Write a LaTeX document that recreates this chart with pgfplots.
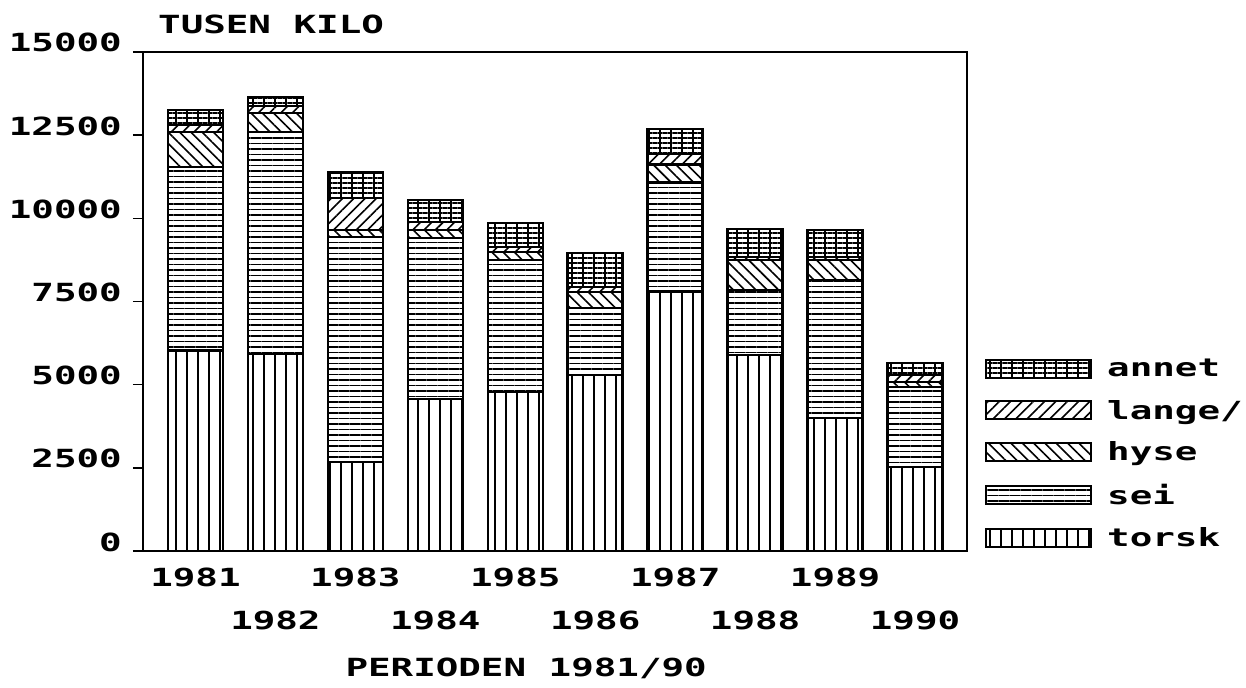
\documentclass[border=0pt]{standalone}
\usepackage{pgfplots}
\pgfplotsset{compat=1.18}
\usepackage{fontspec}
\setmainfont{DejaVu Sans Mono}[FakeStretch=1.5]
\usetikzlibrary{patterns.meta}
\tikzset{
  ptorsk/.style={pattern={Lines[angle=90,distance=11bp,line width=1.8bp]},pattern color=black},
  psei/.style={pattern={Lines[angle=0,distance=5.5bp,line width=1.7bp]},pattern color=black},
  physe/.style={pattern={Lines[angle=-45,distance=8bp,line width=1.6bp]},pattern color=black},
  plange/.style={pattern={Lines[angle=45,distance=8bp,line width=1.6bp]},pattern color=black},
  pannet/.style={pattern={Lines[angle=0,distance=5bp,line width=1.7bp]},pattern color=black,
     postaction={pattern={Lines[angle=90,distance=11bp,line width=1.6bp]},pattern color=black}},
}
\begin{document}
\begin{tikzpicture}
\path[use as bounding box] (0,0) rectangle (1246bp,688bp);
\begin{axis}[
  at={(143bp,137bp)}, anchor=south west,
  scale only axis, width=824bp, height=499bp,
  ybar stacked, bar width=55bp,
  xmin=-0.656, xmax=9.65, ymin=0, ymax=15000,
  ytick={0,2500,5000,7500,10000,12500,15000},
  scaled y ticks=false,
  ytick pos=left,
  xtick={0,2,4,6,8},
  xticklabels={1981,1983,1985,1987,1989},
  extra x ticks={1,3,5,7,9},
  extra x tick labels={1982,1984,1986,1988,1990},
  extra x tick style={xticklabel style={yshift=-43bp}},
  xtick style={draw=none},
  tick align=outside, major tick length=10bp,
  ytick style={line width=1.5bp, black},
  axis line style={line width=1.8bp},
  font=\fontsize{25bp}{28bp}\selectfont\bfseries,
  yticklabel style={anchor=base east, inner sep=0pt, xshift=-11bp},
  xticklabel style={anchor=base, inner sep=0pt, yshift=-25bp},
  /pgf/number format/.cd, set thousands separator={}, assume math mode=true,
  /pgfplots/.cd,
  title={TUSEN KILO},
  title style={at={(0,1)}, anchor=base west, inner sep=0pt, xshift=15bp, yshift=13bp},
  xlabel={PERIODEN 1981/90},
  xlabel style={at={(axis description cs:0.465,0)}, anchor=base, inner sep=0pt, yshift=-125bp},
  reverse legend,
  legend style={at={(1,0)}, anchor=south west, draw=none, fill=none,
     xshift=18bp, yshift=3bp, row sep=21.5bp, inner sep=0pt,
     nodes={inner sep=0pt, anchor=west}},
  legend cell align=left,
  legend image code/.code={\draw[#1, line width=2bp] (0bp,-9bp) rectangle (105bp,9bp);},
]
\addplot[draw=black, line width=2.5bp, ptorsk] coordinates {
 (0,6020) (1,5920) (2,2675) (3,4570) (4,4780) (5,5290) (6,7795) (7,5890) (8,4000) (9,2525)};
\addplot[draw=black, line width=2.5bp, psei] coordinates {
 (0,5520) (1,6680) (2,6760) (3,4840) (4,3970) (5,2015) (6,3280) (7,1955) (8,4150) (9,2405)};
\addplot[draw=black, line width=2.5bp, physe] coordinates {
 (0,1050) (1,570) (2,210) (3,240) (4,240) (5,480) (6,540) (7,900) (8,600) (9,150)};
\addplot[draw=black, line width=2.5bp, plange] coordinates {
 (0,210) (1,205) (2,960) (3,240) (4,150) (5,150) (6,320) (7,90) (8,90) (9,210)};
\addplot[draw=black, line width=2.5bp, pannet] coordinates {
 (0,450) (1,270) (2,770) (3,660) (4,720) (5,1020) (6,750) (7,840) (8,810) (9,360)};
\legend{\hspace{15bp}torsk,\hspace{15bp}sei,\hspace{15bp}hyse,\hspace{15bp}lange/,\hspace{15bp}annet}
\end{axis}
\end{tikzpicture}
\end{document}
